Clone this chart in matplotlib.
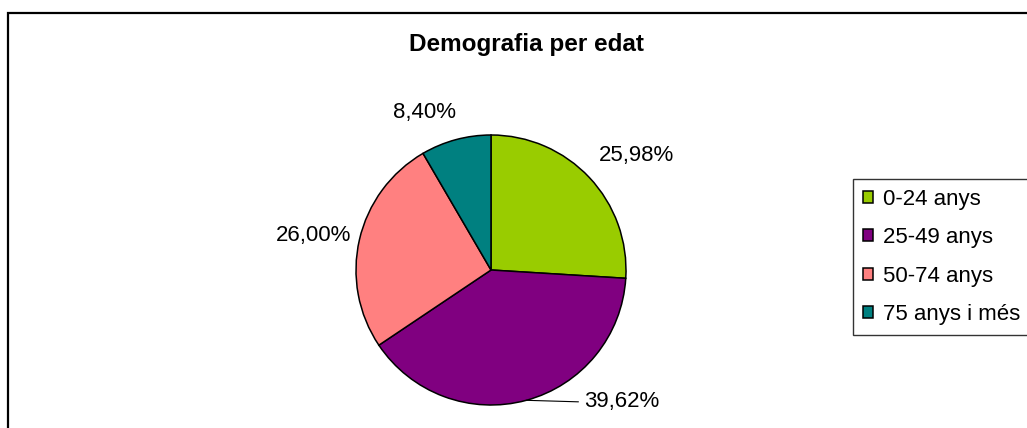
import numpy as np
import matplotlib
matplotlib.use("Agg")
import matplotlib.pyplot as plt
from matplotlib.patches import Rectangle

plt.rcParams["font.family"] = ["Liberation Sans", "DejaVu Sans"]

categories = ["0-24 anys", "25-49 anys", "50-74 anys", "75 anys i més"]
values = [25.98, 39.62, 26.00, 8.40]
colors = ["#99CC00", "#800080", "#FF8080", "#008080"]
title = "Demografia per edat"

W, H = 1027, 428
fig = plt.figure(figsize=(W / 100, H / 100), dpi=100)
ax = fig.add_axes([0, 0, 1, 1])

cx, cy, r = 491, H - 270, 135
wedges, _ = ax.pie(values, colors=colors, startangle=90, counterclock=False,
                   center=(cx, cy), radius=r, frame=True,
                   wedgeprops=dict(edgecolor="black", linewidth=1.1))
ax.set_xlim(0, W)
ax.set_ylim(0, H)
ax.set_aspect("equal")
ax.axis("off")


def fmt(v):
    return f"{v:.2f}".replace(".", ",") + "%"


# label positions (pixels from top-left)
label_pos = [(637, 155), None, (314, 235), (425, 112)]
for i, v in enumerate(values):
    if label_pos[i] is not None:
        x, y = label_pos[i]
        ax.text(x, H - y, fmt(v), fontsize=16, ha="center", va="center")

# label with leader line for the big wedge
w = wedges[1]
mid = np.deg2rad((w.theta1 + w.theta2) / 2)
ex, ey = cx + r * np.cos(mid), cy + r * np.sin(mid)
ax.annotate(fmt(values[1]), xy=(ex, ey), xytext=(584, H - 402),
            fontsize=16, ha="left", va="center",
            arrowprops=dict(arrowstyle="-", lw=0.8, color="black",
                            shrinkA=2, shrinkB=0, relpos=(0, 0.5)))

ax.text(526, H - 44, title, fontsize=17.5, fontweight="bold",
        ha="center", va="center")

# legend runs off the right edge, like the original
leg = ax.legend(wedges, categories, loc="upper left", mode="expand",
                bbox_to_anchor=(853 / W, 1 - 179 / H, 200 / W, 0),
                fontsize=16, frameon=True, fancybox=False, edgecolor="black",
                handlelength=0.45, handleheight=0.45, handletextpad=0.45,
                labelspacing=0.78, borderpad=0.45, borderaxespad=0)
leg.get_frame().set_linewidth(1.0)

# chart border
ax.add_patch(Rectangle((8, -20), W + 20, H - 13 + 20, fill=False,
                       edgecolor="black", linewidth=1.6, clip_on=False))

fig.savefig("out.png", dpi=100)
